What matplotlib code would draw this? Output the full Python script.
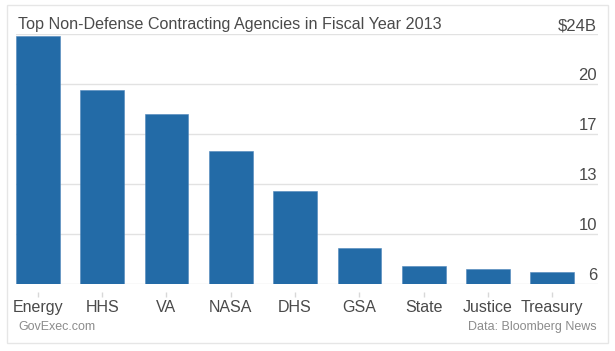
import matplotlib
matplotlib.use('Agg')
from matplotlib import pyplot as plt
from matplotlib.patches import Rectangle
import matplotlib.transforms as mtransforms

# chart data (billions of dollars)
agencies = ['Energy', 'HHS', 'VA', 'NASA', 'DHS', 'GSA', 'State', 'Justice', 'Treasury']
spending = [23.85, 20.08, 18.38, 15.81, 13.01, 9.02, 7.78, 7.57, 7.36]

# value axis runs from 6.5 to 24 in 3.5 steps, labels are rounded down
y_ticks = [6.5, 10.0, 13.5, 17.0, 20.5, 24.0]
y_tick_labels = ['6', '10', '13', '17', '20', '$24B']

title = 'Top Non-Defense Contracting Agencies in Fiscal Year 2013'
source_left = 'GovExec.com'
source_right = 'Data: Bloomberg News'

bar_color = '#236ba7'
grid_color = '#e2e2e2'
text_color = '#4a4a4a'
note_color = '#8c8c8c'

plt.rcParams['font.family'] = ['Liberation Sans', 'DejaVu Sans']

fig = plt.figure(figsize=(6.15, 3.51), dpi=100)
ax = fig.add_axes([16 / 615, 1 - 284 / 351, 582 / 615, 250 / 351])

x = list(range(len(agencies)))
ax.bar(x, spending, width=0.68, color=bar_color, edgecolor='#4f86bb', linewidth=0.4, zorder=2)

ax.set_ylim(y_ticks[0], y_ticks[-1])
ax.set_xlim(-0.34, 8.71)

# horizontal grid lines
for yv in y_ticks:
    ax.axhline(yv, color=grid_color, linewidth=1.0, zorder=1)

for s in ax.spines.values():
    s.set_visible(False)

# value labels sit just above each grid line on the right
offset = mtransforms.ScaledTranslation(-1 / 100, 4 / 100, fig.dpi_scale_trans)
lbl_trans = ax.get_yaxis_transform() + offset
for yv, lab in zip(y_ticks, y_tick_labels):
    ax.text(1.0, yv, lab, transform=lbl_trans, ha='right', va='baseline',
            fontsize=12, color=text_color, zorder=3)
ax.set_yticks([])

# category labels, with small detached tick marks above them
ax.set_xticks(x)
ax.set_xticklabels(agencies, fontsize=11.5, color=text_color)
ax.tick_params(axis='x', length=0, pad=11.5)
ax.vlines(x, -0.052, -0.032, transform=ax.get_xaxis_transform(),
          color='#d8d8d8', linewidth=1.0, clip_on=False)

# title and footer notes
fig.text(18 / 615, 1 - 29 / 351, title, ha='left', va='baseline', fontsize=11.6, color=text_color)
fig.text(18 / 615, 1 - 330 / 351, source_left, ha='left', va='baseline', fontsize=9, color=note_color)
fig.text(597 / 615, 1 - 330 / 351, source_right, ha='right', va='baseline', fontsize=9, color=note_color)

# light frame around the whole chart
fig.patches.append(Rectangle((7 / 615, 1 - 343 / 351), 601 / 615, 338 / 351,
                             transform=fig.transFigure, fill=False,
                             edgecolor='#e6e6e6', linewidth=1.0))

fig.savefig('out.png', dpi=100)
